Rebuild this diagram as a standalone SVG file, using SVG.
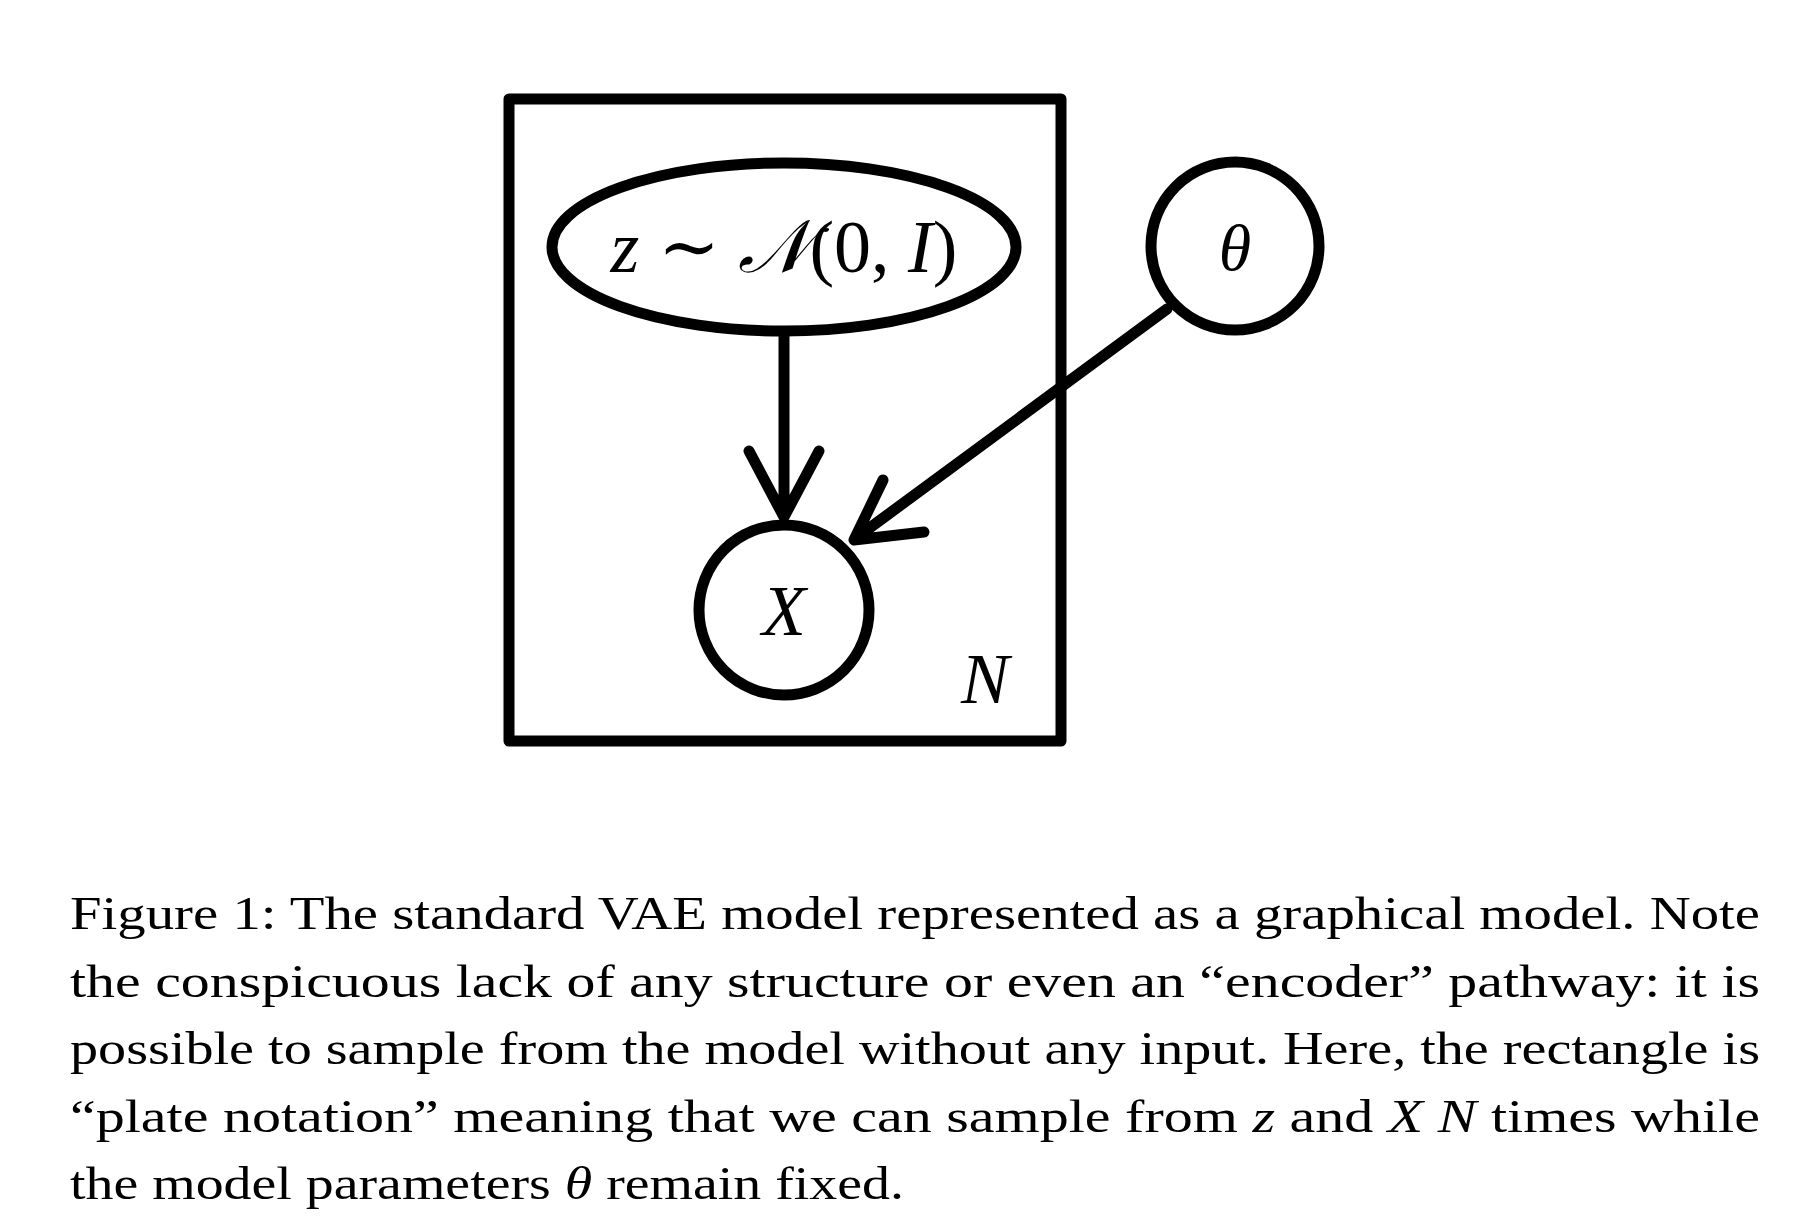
<svg xmlns="http://www.w3.org/2000/svg" width="1812" height="1224" viewBox="0 0 1812 1224">
<style>
.s{fill:none;stroke:#000;stroke-width:11;stroke-linecap:round;stroke-linejoin:round}
.m{font-family:"Liberation Serif","DejaVu Serif",serif;font-style:italic;fill:#000}
.c{font-family:"Liberation Serif","DejaVu Serif",serif;font-size:47px;fill:#000}
</style>
<rect width="1812" height="1224" fill="#fff"/>
<g id="plate"><rect class="s" x="509" y="99" width="552" height="642"/>
<text class="m" x="985" y="703" font-size="72" text-anchor="middle">N</text></g>
<g id="z"><ellipse class="s" cx="784" cy="247" rx="232" ry="84"/>
<text class="m" x="784" y="272" font-size="74" text-anchor="middle">z <tspan font-style="normal">∼</tspan> 𝒩<tspan font-style="normal">(0,</tspan> I<tspan font-style="normal">)</tspan></text></g>
<g id="theta"><circle class="s" cx="1235" cy="246" r="84"/>
<text class="m" x="1235" y="270" font-size="66" text-anchor="middle">θ</text></g>
<g id="X"><circle class="s" cx="784" cy="610" r="85"/>
<text class="m" x="784" y="635" font-size="72" text-anchor="middle">X</text></g>
<g id="connectors">
<path class="s" d="M784 335V515M749 451L784 517L819 451"/>
<path class="s" d="M1167 309L856 538M883 480L854 540L924 532"/>
</g>
<g id="caption">
<text class="c" x="70" y="929" textLength="1690" lengthAdjust="spacingAndGlyphs">Figure 1: The standard VAE model represented as a graphical model. Note</text>
<text class="c" x="70" y="997" textLength="1690" lengthAdjust="spacingAndGlyphs">the conspicuous lack of any structure or even an “encoder” pathway: it is</text>
<text class="c" x="70" y="1064" textLength="1690" lengthAdjust="spacingAndGlyphs">possible to sample from the model without any input. Here, the rectangle is</text>
<text class="c" x="70" y="1132" textLength="1690" lengthAdjust="spacingAndGlyphs">“plate notation” meaning that we can sample from <tspan font-style="italic">z</tspan> and <tspan font-style="italic">X N</tspan> times while</text>
<text class="c" x="70" y="1199" textLength="834" lengthAdjust="spacingAndGlyphs">the model parameters <tspan font-style="italic">θ</tspan> remain fixed.</text>
</g>
</svg>
